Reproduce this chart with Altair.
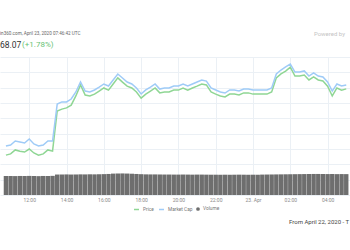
import altair as alt
import pandas as pd

# ---------------- data ----------------
times = pd.date_range("2020-04-22T10:45:00Z", periods=74, freq="15min").strftime("%Y-%m-%dT%H:%M:%SZ").tolist()

price = [6880, 6884, 6897, 6893, 6890, 6900, 6887, 6880, 6884, 6897, 6893,
         7024, 7030, 7034, 7043, 7073, 7109, 7076, 7073, 7079, 7089, 7099, 7092, 7112, 7132, 7118, 7105, 7099, 7086, 7066,
         7079, 7089, 7099, 7083, 7086, 7086, 7092, 7092, 7099, 7092, 7099, 7105, 7112, 7109, 7086, 7079, 7073, 7070,
         7079, 7079, 7076, 7083, 7083, 7079, 7079, 7079, 7079, 7086,
         7132, 7145, 7154, 7167, 7138, 7138, 7141, 7125, 7135, 7125, 7122, 7105, 7073, 7099, 7092, 7096]

market_cap = [126.20, 126.26, 126.52, 126.46, 126.39, 126.65, 126.33, 126.20, 126.26, 126.52, 126.52,
              128.93, 129.07, 129.07, 129.26, 129.72, 130.37, 129.78, 129.72, 129.85, 130.04, 130.24, 130.11, 130.50,
              130.89, 130.63, 130.37, 130.24, 129.98, 129.59,
              129.85, 130.04, 130.24, 129.91, 129.98, 129.98, 130.11, 130.11, 130.24, 130.11, 130.24, 130.37, 130.50,
              130.43, 129.98, 129.85, 129.72, 129.65, 129.85, 129.85, 129.78, 129.91, 129.91, 129.85, 129.85, 129.85,
              129.85, 129.98,
              130.89, 131.15, 131.35, 131.54, 131.02, 131.02, 131.09, 130.76, 130.96, 130.76, 130.70, 130.37, 129.78,
              130.24, 130.11, 130.17]

volume = [33.0, 33.2, 32.9, 33.1, 33.0, 33.2, 33.0, 32.8, 33.1, 33.0, 33.3,
          35.6, 35.7, 35.8, 35.6, 35.7, 35.9, 35.8, 36.0, 35.9, 36.1, 36.3, 36.6,
          37.2, 37.4, 37.5, 37.3, 37.0, 36.6, 36.2,
          35.9, 35.8, 35.8, 35.7, 35.6, 35.6, 35.5, 35.5, 35.6, 35.5, 35.4, 35.5, 35.5, 35.4, 35.3, 35.3, 35.2,
          35.3, 35.2, 35.3, 35.4, 35.3, 35.2, 35.3, 35.4, 35.5,
          35.6, 35.7, 35.8, 35.9, 36.0, 36.1, 36.2, 36.3, 36.4, 36.5, 36.6, 36.6, 36.5, 36.4, 36.5, 36.3, 36.4, 36.3]

tick_times = ["2020-04-22T12:00:00Z", "2020-04-22T14:00:00Z", "2020-04-22T16:00:00Z", "2020-04-22T18:00:00Z",
              "2020-04-22T20:00:00Z", "2020-04-22T22:00:00Z", "2020-04-23T00:00:00Z", "2020-04-23T02:00:00Z",
              "2020-04-23T04:00:00Z"]
x_domain = ["2020-04-22T10:42:00Z", "2020-04-23T04:56:00Z"]
price_grid = [6750, 6800, 6850, 6900, 6950, 7000, 7050, 7100, 7150, 7200]
price_name = ["Price"]
mcap_name = ["Market Cap"]
volume_name = ["Volume"]

header_text = "in360.com, April 23, 2020 07:46:42 UTC"
powered_text = "Powered by"
price_text = "68.07"
change_text = "(+1.78%)"
range_text = "From April 22, 2020 - T"

# ---------------- style ----------------
GREEN = "#8fd694"
BLUE = "#9fcbf7"
GRID = "#ebf0f5"
VOL = "#6e6e6e"
FONT = "Roboto"
LEG_Y = 149

df = pd.DataFrame({"time": times, "price": price, "mcap": market_cap, "volume": volume})


def ms(s):
    return int(pd.Timestamp(s).value // 10**6)


def legend(x, symbol, size):
    return alt.Legend(orient="none", legendX=x, legendY=LEG_Y, direction="horizontal", title=None,
                      labelFontSize=4.8, labelColor="#777777", labelFont=FONT, symbolSize=size,
                      symbolStrokeWidth=1.5, symbolType=symbol, labelOffset=3, padding=0)


x_enc = alt.X(
    "time:T",
    scale=alt.Scale(type="utc", domain=[ms(s) for s in x_domain], nice=False),
    axis=alt.Axis(values=[ms(s) for s in tick_times], grid=True, gridColor=GRID, ticks=False, domain=False,
                  labelFontSize=5, labelColor="#8a8a8a", labelPadding=2, title=None, labelFont=FONT,
                  labelExpr="utcFormat(datum.value, '%H') == '00' ? '23. Apr' : utcFormat(datum.value, '%H:%M')"),
)

vol_bars = alt.Chart(df).mark_bar(width=4.4, clip=True).transform_calculate(vs="'Volume'").encode(
    x=x_enc,
    y=alt.Y("volume:Q", scale=alt.Scale(domain=[0, 240], nice=False), axis=None),
    fill=alt.Fill("vs:N", scale=alt.Scale(domain=volume_name, range=[VOL]),
                  legend=alt.Legend(orient="none", legendX=195, legendY=LEG_Y, direction="horizontal", title=None,
                                    labelFontSize=4.8, labelColor="#777777", labelFont=FONT, symbolSize=14,
                                    symbolType="circle", labelOffset=2, padding=0)),
)

price_line = alt.Chart(df).mark_line(strokeWidth=1.5, clip=True).transform_calculate(series="'Price'").encode(
    x=x_enc,
    y=alt.Y("price:Q", scale=alt.Scale(domain=[6750, 7200], nice=False, zero=False),
            axis=alt.Axis(values=price_grid, labels=False, ticks=False, domain=False, grid=True,
                          gridColor=GRID, title=None)),
    color=alt.Color("series:N", scale=alt.Scale(domain=price_name, range=[GREEN]), legend=legend(133, "stroke", 25)),
)

mcap_line = alt.Chart(df).mark_line(strokeWidth=1.5, clip=True).transform_calculate(series="'Market Cap'").encode(
    x=x_enc,
    y=alt.Y("mcap:Q", scale=alt.Scale(domain=[123.0, 132.0], nice=False, zero=False), axis=None),
    stroke=alt.Stroke("series:N", scale=alt.Scale(domain=mcap_name, range=[BLUE]), legend=legend(158, "stroke", 25)),
)


def text_layer(txt, x, y, size, color, align="left", weight="normal"):
    return alt.Chart(pd.DataFrame({"t": [txt]})).mark_text(
        align=align, baseline="middle", fontSize=size, color=color, font=FONT, fontWeight=weight
    ).encode(x=alt.value(x), y=alt.value(y), text="t:N")


texts = [
    text_layer(header_text, 0, -23, 4.6, "#666666"),
    text_layer(powered_text, 345, -23, 6, "#c4c4c4", align="right"),
    text_layer(price_text, 0, -12, 8.5, "#333333"),
    text_layer(change_text, 22, -12, 8, "#66c274"),
    text_layer(range_text, 289, 165, 6, "#444444"),
]

chart = alt.layer(vol_bars, price_line, mcap_line, *texts).resolve_scale(
    y="independent"
).properties(
    width=350, height=138,
    padding={"top": 57, "left": 0, "right": 0, "bottom": 55},
    autosize=alt.AutoSizeParams(type="none"),
    background="white",
).configure_view(stroke=None)

chart.save("out.html", embed_options={"renderer": "svg", "actions": False})
